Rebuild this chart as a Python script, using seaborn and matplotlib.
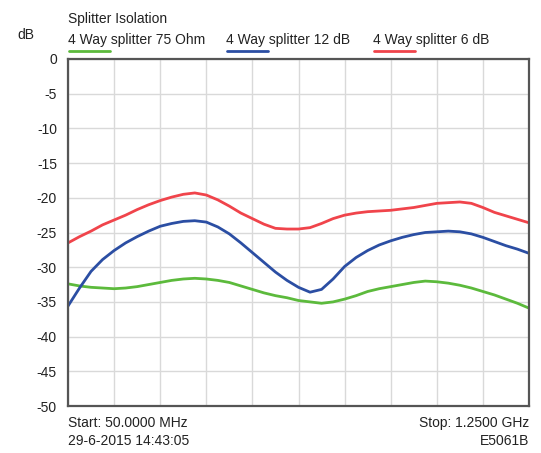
import numpy as np
import pandas as pd
import matplotlib
matplotlib.use("Agg")
import matplotlib.pyplot as plt
import seaborn as sns
from matplotlib.lines import Line2D

freq_mhz = list(range(50, 1251, 30))
s75 = [-32.4, -32.7, -32.9, -33.0, -33.1, -33.0, -32.8, -32.5, -32.2, -31.9,
       -31.7, -31.6, -31.7, -31.9, -32.2, -32.7, -33.2, -33.7, -34.1, -34.4,
       -34.8, -35.0, -35.2, -35.0, -34.6, -34.1, -33.5, -33.1, -32.8, -32.5,
       -32.2, -32.0, -32.1, -32.3, -32.6, -33.0, -33.5, -34.0, -34.6, -35.2, -35.9]
s12 = [-35.6, -33.0, -30.6, -28.9, -27.6, -26.5, -25.6, -24.8, -24.1, -23.7,
       -23.4, -23.3, -23.5, -24.2, -25.2, -26.5, -27.9, -29.3, -30.7, -31.9,
       -32.9, -33.6, -33.2, -31.7, -29.9, -28.6, -27.6, -26.8, -26.2, -25.7,
       -25.3, -25.0, -24.9, -24.8, -24.9, -25.2, -25.7, -26.3, -26.9, -27.4, -28.0]
s6 = [-26.5, -25.6, -24.8, -23.9, -23.2, -22.5, -21.7, -21.0, -20.4, -19.9,
      -19.5, -19.3, -19.6, -20.3, -21.2, -22.2, -23.0, -23.8, -24.4, -24.5,
      -24.5, -24.3, -23.7, -23.0, -22.5, -22.2, -22.0, -21.9, -21.8, -21.6,
      -21.4, -21.1, -20.8, -20.7, -20.6, -20.8, -21.4, -22.1, -22.6, -23.1, -23.6]
series_names = ["4 Way splitter 75 Ohm", "4 Way splitter 12 dB", "4 Way splitter 6 dB"]
colors = ["#5cba3c", "#2b4ea3", "#f0444b"]
y_ticks = [0, -5, -10, -15, -20, -25, -30, -35, -40, -45, -50]

df = pd.concat([
    pd.DataFrame({"freq": freq_mhz, "dB": vals, "series": name})
    for name, vals in zip(series_names, [s75, s12, s6])
])

sns.set_style("white")
plt.rcParams["font.family"] = ["Liberation Sans", "DejaVu Sans"]

W, H = 541, 453
fig = plt.figure(figsize=(W/100, H/100), dpi=100)
L, R, T, B = 68, 529, 59, 406
ax = fig.add_axes([L/W, 1-B/H, (R-L)/W, (B-T)/H])

sns.lineplot(data=df, x="freq", y="dB", hue="series", palette=dict(zip(series_names, colors)),
             linewidth=2.0, ax=ax, legend=False)

ax.set_xlim(50, 1250)
ax.set_ylim(-50, 0)
ax.set_xticks(np.linspace(50, 1250, 11))
ax.set_xticklabels([])
ax.set_yticks(y_ticks)
ax.set_yticklabels([str(t) for t in y_ticks], fontsize=10, color="#222222")
ax.tick_params(axis="both", length=0, pad=8)
ax.grid(True, color="#d9d9d9", linewidth=1)
ax.set_xlabel("")
ax.set_ylabel("")
for sp in ax.spines.values():
    sp.set_color("#555555")
    sp.set_linewidth(1.6)

fs = 10
fig.text(L/W, 1-19/H, "Splitter Isolation", fontsize=fs, va="center", ha="left", color="#222222")
fig.text(17/W, 1-35/H, "dB", fontsize=fs, va="center", ha="left", color="#222222")
leg_x = [68, 226, 373]
for x0, name, c in zip(leg_x, series_names, colors):
    fig.text(x0/W, 1-40/H, name, fontsize=fs, va="center", ha="left", color="#222222")
    fig.lines.append(Line2D([(x0+1)/W, (x0+42)/W], [1-51/H, 1-51/H],
                            transform=fig.transFigure, color=c, linewidth=2))

fig.text(L/W, 1-423/H, "Start: 50.0000 MHz", fontsize=fs, va="center", ha="left", color="#222222")
fig.text(L/W, 1-441/H, "29-6-2015 14:43:05", fontsize=fs, va="center", ha="left", color="#222222")
fig.text(R/W, 1-423/H, "Stop: 1.2500 GHz", fontsize=fs, va="center", ha="right", color="#222222")
fig.text(R/W, 1-441/H, "E5061B", fontsize=fs, va="center", ha="right", color="#222222")

fig.savefig("out.png", dpi=100)
